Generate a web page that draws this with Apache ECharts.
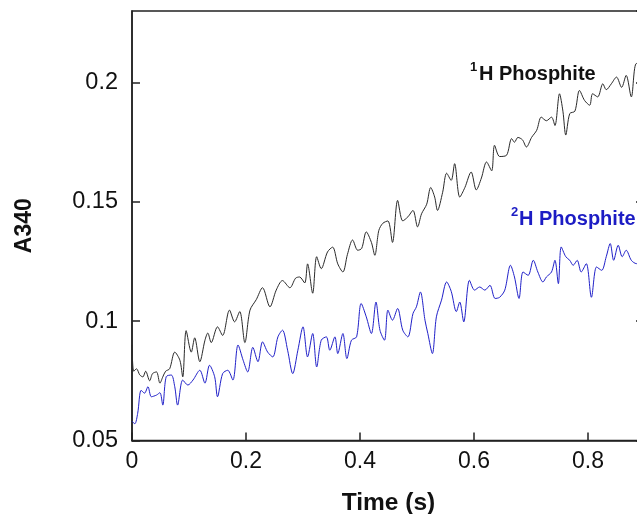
<!DOCTYPE html>
<html>
<head>
<meta charset="utf-8">
<script src="https://cdn.jsdelivr.net/npm/echarts@6/dist/echarts.min.js"></script>
<style>html,body{margin:0;padding:0;background:#fff}#c{width:637px;height:514px}</style>
</head>
<body>
<div id="c"></div>
<script>
// Time (s) and A340 readings for 1H phosphite (black)
var timeH = [0.000,0.003,0.008,0.0135,0.019,0.024,0.031,0.036,0.043,0.049,0.054,0.059,0.066,0.075,0.084,0.089,0.095,0.104,0.110,0.119,0.128,0.133,0.139,0.150,0.159,0.171,0.180,0.189,0.198,0.207,0.218,0.229,0.242,0.253,0.264,0.277,0.287,0.294,0.303,0.308,0.317,0.324,0.332,0.343,0.352,0.361,0.370,0.378,0.387,0.396,0.403,0.411,0.420,0.426,0.433,0.440,0.449,0.457,0.466,0.475,0.484,0.493,0.501,0.508,0.517,0.524,0.531,0.536,0.545,0.552,0.560,0.566,0.575,0.584,0.595,0.604,0.613,0.622,0.631,0.636,0.645,0.657,0.666,0.671,0.677,0.685,0.692,0.701,0.710,0.718,0.727,0.736,0.742,0.750,0.756,0.761,0.768,0.777,0.785,0.794,0.803,0.808,0.817,0.826,0.832,0.841,0.850,0.859,0.867,0.876,0.885,0.899];
var a340H = [0.090,0.079,0.080,0.0775,0.0766,0.079,0.075,0.078,0.0787,0.074,0.0766,0.079,0.080,0.087,0.0836,0.0766,0.096,0.087,0.093,0.083,0.092,0.095,0.091,0.0976,0.094,0.1046,0.0997,0.104,0.091,0.1046,0.109,0.114,0.106,0.113,0.117,0.114,0.118,0.1185,0.116,0.124,0.1117,0.127,0.122,0.129,0.131,0.124,0.1206,0.128,0.134,0.1297,0.1305,0.1374,0.133,0.1276,0.138,0.141,0.142,0.133,0.1506,0.142,0.1437,0.1464,0.1395,0.145,0.149,0.156,0.152,0.1464,0.154,0.162,0.159,0.166,0.152,0.156,0.1625,0.155,0.160,0.1667,0.163,0.1737,0.169,0.1695,0.1765,0.175,0.177,0.176,0.173,0.177,0.180,0.1855,0.184,0.1855,0.182,0.1953,0.188,0.178,0.187,0.188,0.1967,0.1925,0.1905,0.1953,0.194,0.1995,0.197,0.1995,0.2023,0.198,0.203,0.194,0.208,0.206];
// Time (s) and A340 readings for 2H phosphite (blue)
var timeD = [0.000,0.005,0.010,0.016,0.022,0.028,0.034,0.043,0.049,0.054,0.060,0.069,0.075,0.080,0.089,0.098,0.107,0.119,0.128,0.136,0.145,0.150,0.159,0.168,0.177,0.186,0.195,0.203,0.212,0.221,0.229,0.238,0.247,0.256,0.264,0.273,0.282,0.291,0.300,0.308,0.317,0.324,0.332,0.341,0.347,0.356,0.361,0.370,0.377,0.385,0.394,0.402,0.411,0.420,0.428,0.435,0.443,0.449,0.457,0.466,0.475,0.484,0.493,0.499,0.506,0.514,0.519,0.527,0.534,0.543,0.552,0.560,0.569,0.575,0.582,0.592,0.601,0.610,0.619,0.628,0.637,0.645,0.654,0.664,0.671,0.679,0.686,0.695,0.704,0.712,0.721,0.727,0.736,0.742,0.748,0.753,0.761,0.768,0.774,0.781,0.788,0.797,0.806,0.815,0.824,0.832,0.839,0.845,0.853,0.860,0.867,0.876,0.885,0.899];
var a340D = [0.058,0.057,0.0614,0.071,0.0698,0.0725,0.0683,0.069,0.070,0.0648,0.0767,0.0774,0.0725,0.0648,0.0753,0.0732,0.0753,0.0794,0.074,0.0815,0.0767,0.0683,0.078,0.0794,0.0753,0.090,0.0836,0.0787,0.089,0.083,0.0913,0.087,0.085,0.0934,0.0962,0.0878,0.078,0.0878,0.0976,0.085,0.0948,0.0808,0.092,0.0934,0.0878,0.0934,0.0864,0.0948,0.0843,0.092,0.0934,0.1074,0.1018,0.0948,0.108,0.0962,0.092,0.1046,0.1004,0.1053,0.0962,0.0934,0.1032,0.106,0.1122,0.1004,0.0948,0.0864,0.1018,0.1088,0.1164,0.1125,0.104,0.108,0.0997,0.1171,0.113,0.1143,0.113,0.115,0.1095,0.110,0.113,0.1234,0.1185,0.1095,0.1206,0.1192,0.1255,0.1206,0.1164,0.1185,0.1206,0.1255,0.1157,0.1311,0.127,0.1255,0.1234,0.1255,0.1206,0.1241,0.110,0.1227,0.1213,0.127,0.1325,0.1255,0.1318,0.127,0.1297,0.1255,0.1241,0.126];

function pairs(t, v) { return t.map(function (x, i) { return [x, v[i]]; }); }

var FONT = '"Liberation Sans", Arial, sans-serif';
var chart = echarts.init(document.getElementById('c'), null, { renderer: 'canvas' });
chart.setOption({
  animation: false,
  backgroundColor: '#ffffff',
  grid: { left: 132, top: 11, width: 513, height: 429.4, show: true, borderColor: '#222', borderWidth: 1.5,
          containLabel: false, outerBoundsMode: 'none' },
  xAxis: {
    type: 'value', min: 0, max: 0.9, interval: 0.2,
    name: 'Time (s)', nameLocation: 'middle', nameGap: 50,
    nameTextStyle: { fontFamily: FONT, fontSize: 24.5, fontWeight: 'bold', color: '#111' },
    axisLine: { show: true, onZero: false, lineStyle: { color: '#222', width: 1.5 } },
    axisTick: { show: true, inside: true, length: 8, lineStyle: { color: '#222', width: 1.5 } },
    axisLabel: { fontFamily: FONT, fontSize: 23, color: '#111', margin: 10, showMaxLabel: false },
    splitLine: { show: false }
  },
  yAxis: [{
    type: 'value', min: 0.05, max: 0.23, interval: 0.05,
    name: 'A340', nameLocation: 'middle', nameGap: 96, nameRotate: 90,
    nameTextStyle: { fontFamily: FONT, fontSize: 23, fontWeight: 'bold', color: '#111' },
    axisLine: { show: true, onZero: false, lineStyle: { color: '#222', width: 1.5 } },
    axisTick: { show: true, inside: true, length: 8, lineStyle: { color: '#222', width: 1.5 } },
    axisLabel: { fontFamily: FONT, fontSize: 23.5, color: '#111', margin: 14, showMaxLabel: false },
    splitLine: { show: false }
  }, {
    type: 'value', min: 0.05, max: 0.23, interval: 0.05, position: 'right',
    axisLine: { show: true, onZero: false, lineStyle: { color: '#222', width: 1.5 } },
    axisTick: { show: true, inside: true, length: 9, lineStyle: { color: '#222', width: 1.5 } },
    axisLabel: { show: false }, splitLine: { show: false }
  }],
  series: [{
    name: '1H Phosphite', type: 'line', data: pairs(timeH, a340H), showSymbol: false, symbol: 'none',
    smooth: 0.3, lineStyle: { color: '#2a2a2a', width: 1 }, z: 3
  }, {
    name: '2H Phosphite', type: 'line', data: pairs(timeD, a340D), showSymbol: false, symbol: 'none',
    smooth: 0.3, lineStyle: { color: '#2020c8', width: 1 }, z: 2
  }],
  graphic: [
    { type: 'text', left: 470, top: 61, style: { text: '1', font: 'bold 13px ' + FONT, fill: '#111' } },
    { type: 'text', left: 479, top: 64, style: { text: 'H Phosphite', font: 'bold 20px ' + FONT, fill: '#111' } },
    { type: 'text', left: 511, top: 206, style: { text: '2', font: 'bold 13px ' + FONT, fill: '#1c1cc4' } },
    { type: 'text', left: 519, top: 209, style: { text: 'H Phosphite', font: 'bold 20px ' + FONT, fill: '#1c1cc4' } }
  ]
});
</script>
</body>
</html>
